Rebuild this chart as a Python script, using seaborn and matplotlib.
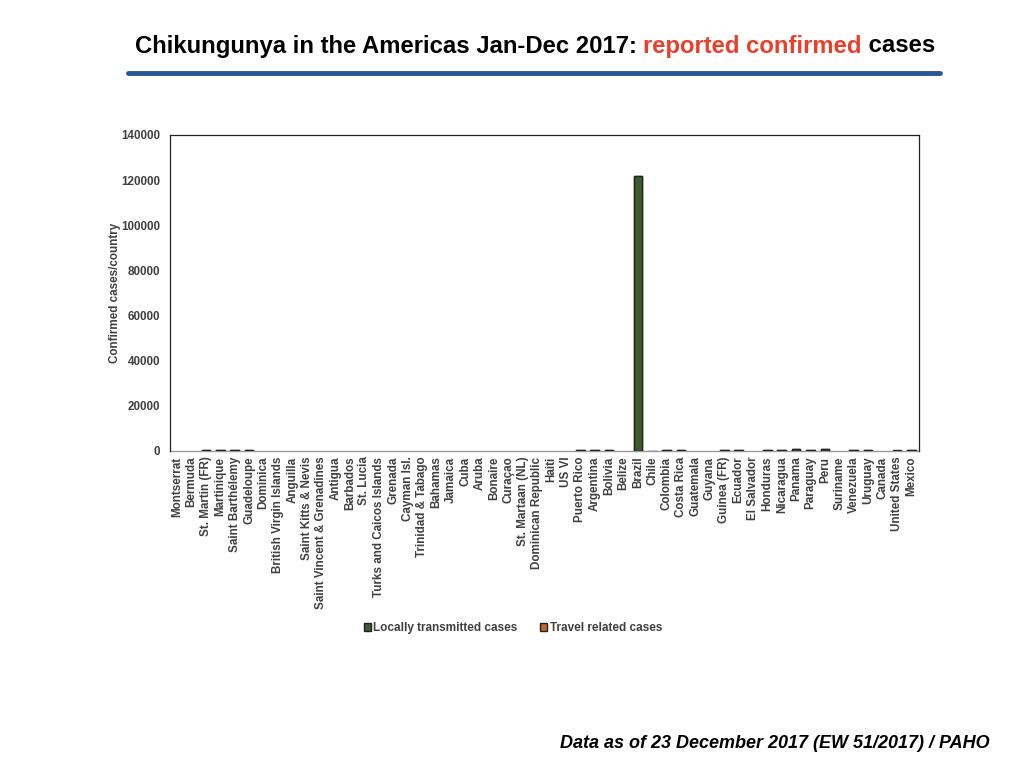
import matplotlib
matplotlib.use("Agg")
import matplotlib.pyplot as plt
import seaborn as sns
import pandas as pd
import numpy as np
from matplotlib.patches import Patch

countries = ["Montserrat", "Bermuda", "St. Martin (FR)", "Martinique", "Saint Barthélemy",
             "Guadeloupe", "Dominica", "British Virgin Islands", "Anguilla", "Saint Kitts & Nevis",
             "Saint Vincent & Grenadines", "Antigua", "Barbados", "St. Lucia",
             "Turks and Caicos Islands", "Grenada", "Cayman Isl.", "Trinidad & Tabago", "Bahamas",
             "Jamaica", "Cuba", "Aruba", "Bonaire", "Curaçao", "St. Martaan (NL)",
             "Dominican Republic", "Haiti", "US VI", "Puerto Rico", "Argentina", "Bolivia",
             "Belize", "Brazil", "Chile", "Colombia", "Costa Rica", "Guatemala", "Guyana",
             "Guinea (FR)", "Ecuador", "El Salvador", "Honduras", "Nicaragua", "Panama",
             "Paraguay", "Peru", "Suriname", "Venezuela", "Uruguay", "Canada", "United States",
             "Mexico"]
locally = [0, 0, 300, 300, 300, 300, 0, 0, 0, 0,
           0, 0, 0, 0, 0, 0, 0, 0, 0, 0,
           0, 0, 0, 0, 0, 0, 0, 0, 250, 250,
           300, 0, 121700, 0, 250, 300, 0, 0, 250, 300,
           0, 250, 250, 700, 250, 900, 0, 250, 250, 0,
           0, 300]
travel = [0, 0, 0, 0, 0, 0, 0, 0, 0, 0,
          0, 0, 0, 0, 0, 0, 0, 0, 0, 0,
          0, 0, 0, 0, 0, 0, 0, 0, 0, 30,
          0, 0, 0, 150, 0, 0, 0, 0, 0, 0,
          0, 0, 0, 0, 0, 0, 0, 0, 0, 0,
          250, 0]

GREEN = "#3f5b2b"
ORANGE = "#c0682e"
LBL = "#404040"

df = pd.DataFrame({"country": countries, "locally": locally, "travel": travel})
df["total"] = df["locally"] + df["travel"]

sns.set_theme(style="white")
plt.rcParams["font.family"] = ["Liberation Sans", "DejaVu Sans"]

fig = plt.figure(figsize=(10.24, 7.68), dpi=100)
ax = fig.add_axes([0.166, 0.4128, 0.731, 0.4115])

sns.barplot(data=df, x="country", y="total", color=ORANGE, edgecolor="#222222",
            linewidth=1.0, width=0.6, saturation=1, ax=ax, order=countries, zorder=3)
sns.barplot(data=df, x="country", y="locally", color=GREEN, edgecolor="#222222",
            linewidth=1.0, width=0.6, saturation=1, ax=ax, order=countries, zorder=3)
# hide outlines of empty (zero) bars
for p in ax.patches:
    if p.get_height() == 0:
        p.set_linewidth(0)

ax.set_ylim(0, 140000)
ax.set_xlim(-0.5, len(countries) - 0.5)
ax.set_yticks(np.arange(0, 140001, 20000))
ax.set_yticklabels([str(v) for v in range(0, 140001, 20000)], fontsize=8.4,
                   fontweight="bold", color=LBL)
ax.set_xticks(range(len(countries)))
ax.set_xticklabels(countries, rotation=90, fontsize=8.4, fontweight="bold", color=LBL)
ax.tick_params(axis="x", length=0, pad=4)
ax.tick_params(axis="y", length=0, pad=7)
ax.set_xlabel("")
ax.set_ylabel("Confirmed cases/country", fontsize=8.4, fontweight="bold", color=LBL, labelpad=0)
for s in ["top", "right", "left"]:
    ax.spines[s].set_color("#222222")
    ax.spines[s].set_linewidth(0.9)
ax.spines["bottom"].set_color("#999999")
ax.spines["bottom"].set_linewidth(1.0)
ax.spines["bottom"].set_zorder(2)

handles = [Patch(facecolor=GREEN, edgecolor="#222222", label="Locally transmitted cases"),
           Patch(facecolor=ORANGE, edgecolor="#222222", label="Travel related cases")]
fig.legend(handles=handles, loc="center", bbox_to_anchor=(513 / 1024, 1 - 628 / 768), ncol=2,
           frameon=False, prop={"size": 8.5, "weight": "bold"}, labelcolor=LBL,
           handlelength=0.6, handleheight=0.6, handletextpad=0.2, columnspacing=1.9)

# Title in two colours
fig.canvas.draw()
renderer = fig.canvas.get_renderer()
parts = [("Chikungunya in the Americas Jan-Dec 2017: ", "black"),
         ("reported confirmed", "#e8402a"),
         (" cases", "black")]
texts = []
for s, c in parts:
    t = fig.text(0, 1 - 46 / 768, s, color=c, fontsize=17.2, fontweight="bold",
                 ha="left", va="center")
    texts.append(t)
widths = [t.get_window_extent(renderer).width for t in texts]
total = sum(widths)
x0 = 535 - total / 2
for t, w in zip(texts, widths):
    t.set_x(x0 / 1024)
    x0 += w

# Blue rule under title
fig.add_artist(plt.Line2D([128 / 1024, 940 / 1024], [1 - 73 / 768, 1 - 73 / 768],
                          color="#2a5596", linewidth=3.5, transform=fig.transFigure))

fig.text(990 / 1024, 1 - 744 / 768, "Data as of 23 December 2017 (EW 51/2017) / PAHO",
         ha="right", va="center", fontsize=13, fontweight="bold", fontstyle="italic",
         color="black")

fig.savefig("out.png", dpi=100)
